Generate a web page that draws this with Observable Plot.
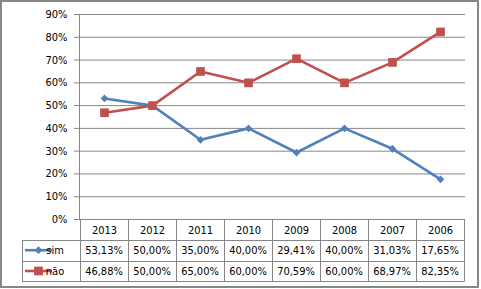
<!DOCTYPE html>
<html><head><meta charset="utf-8">
<script src="https://cdn.jsdelivr.net/npm/d3@7"></script>
<script src="https://cdn.jsdelivr.net/npm/@observablehq/plot@0.6"></script>
<style>
body{margin:0;background:#fff;}
#chart{width:481px;height:289px;}
</style></head><body><div id="chart"></div>
<script>
const years = ["2013","2012","2011","2010","2009","2008","2007","2006"];
const sim = [0.5313,0.50,0.35,0.40,0.2941,0.40,0.3103,0.1765];
const nao = [0.4688,0.50,0.65,0.60,0.7059,0.60,0.6897,0.8235];
const seriesNames = ["sim","não"];
const seriesColors = ["#4F81BD","#C0504D"];
const yTicks = [0,0.1,0.2,0.3,0.4,0.5,0.6,0.7,0.8,0.9];

(function(){
const rows = years.flatMap((y,i)=>[{year:y,serie:"sim",v:sim[i]},{year:y,serie:"não",v:nao[i]}]);
const simRows = rows.filter(d=>d.serie==="sim");
const naoRows = rows.filter(d=>d.serie==="não");
const fmt = d3.formatLocale({decimal:",",thousands:".",grouping:[3],currency:["",""]}).format(".2%");
const grid = "#868686";
const font = "'DejaVu Sans Condensed', 'DejaVu Sans', Verdana, sans-serif";

const plot = Plot.plot({
  width:481,height:289,marginLeft:79,marginRight:16,marginTop:14,marginBottom:70,
  style:{fontFamily:font,fontSize:"11px",color:"#000",background:"#fff",overflow:"visible"},
  x:{type:"band",domain:years,padding:0,label:null},
  y:{domain:[0,0.9],label:null},
  color:{domain:seriesNames,range:seriesColors},
  marks:[
    Plot.gridY(yTicks,{stroke:grid,strokeOpacity:1}),
    Plot.frame({anchor:"left",stroke:grid}),
    Plot.axisY(yTicks,{tickFormat:d3.format(".0%"),tickSize:5,tickPadding:7,stroke:grid,fill:"#000"}),
    Plot.axisX({tickSize:0,tickPadding:7,fill:"#000"}),
    Plot.line(simRows,{x:"year",y:"v",stroke:"serie",strokeWidth:2.6}),
    Plot.dot(simRows,{x:"year",y:"v",fill:"serie",symbol:"square",rotate:45,r:3.1}),
    Plot.line(naoRows,{x:"year",y:"v",stroke:"serie",strokeWidth:2.6}),
    Plot.dot(naoRows,{x:"year",y:"v",fill:"serie",symbol:"square",r:4.9})
  ]
});
document.getElementById("chart").appendChild(plot);

const svg = d3.select(plot);
const xs = plot.scale("x"), ys = plot.scale("y");
const bw = xs.bandwidth;
const x1 = Math.round(xs.apply(years[years.length-1])+bw);
const top0 = Math.round(ys.apply(0));
const rowH = 20.8;
const legendLeft = 22;
const g = svg.append("g").attr("stroke",grid).attr("stroke-width",1).attr("fill","none");
const r = v=>Math.round(v)+0.5;
[1,2,3].forEach(k=>{
  g.append("line").attr("x1",legendLeft).attr("x2",x1).attr("y1",r(top0+rowH*k)).attr("y2",r(top0+rowH*k));
});
years.forEach((y,i)=>{
  const xx = r(xs.apply(y));
  g.append("line").attr("x1",xx).attr("x2",xx).attr("y1",top0).attr("y2",r(top0+rowH*3));
});
g.append("line").attr("x1",x1+0.5).attr("x2",x1+0.5).attr("y1",top0).attr("y2",r(top0+rowH*3));
g.append("line").attr("x1",legendLeft+0.5).attr("x2",legendLeft+0.5).attr("y1",r(top0+rowH)).attr("y2",r(top0+rowH*3));

const series = [sim,nao];
const kg = svg.append("g");
const tg = svg.append("g").attr("font-family",font).attr("font-size",11).attr("fill","#000");
series.forEach((vals,k)=>{
  const cy = top0+rowH*(1.5+k);
  vals.forEach((v,i)=>{
    tg.append("text").attr("x",xs.apply(years[i])+bw/2).attr("y",cy).attr("dy","0.36em")
      .attr("text-anchor","middle").text(fmt(v));
  });
  kg.append("line").attr("x1",25).attr("x2",52).attr("y1",cy).attr("y2",cy)
    .attr("stroke",seriesColors[k]).attr("stroke-width",2.6);
  if(k===0){
    kg.append("rect").attr("x",-2.75).attr("y",-2.75).attr("width",5.5).attr("height",5.5)
      .attr("fill",seriesColors[k]).attr("transform",`translate(38.5,${cy}) rotate(45)`);
  } else {
    kg.append("rect").attr("x",38.5-4.35).attr("y",cy-4.35).attr("width",8.7).attr("height",8.7)
      .attr("fill",seriesColors[k]);
  }
  tg.append("text").attr("x",55).attr("y",cy).attr("dy","0.36em").text(seriesNames[k]);
});
svg.append("rect").attr("x",1).attr("y",1).attr("width",477).attr("height",286)
  .attr("fill","none").attr("stroke",grid).attr("stroke-width",2);
})();
</script></body></html>
